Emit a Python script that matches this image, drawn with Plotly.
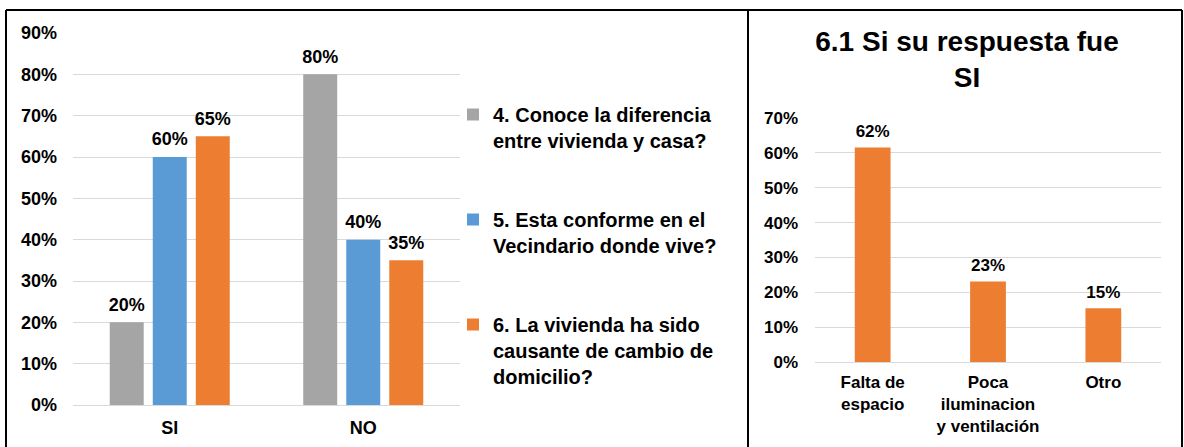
import plotly.graph_objects as go

# Encuesta: respuestas SI / NO por pregunta
respuestas = ["SI", "NO"]
p4_diferencia = [0.20, 0.80]
p5_vecindario = [0.60, 0.40]
p6_cambio = [0.65, 0.35]
nombres_series = [
    "4. Conoce la diferencia<br>entre vivienda y casa?",
    "5. Esta conforme en el<br>Vecindario donde vive?",
    "6. La vivienda ha sido<br>causante de cambio de<br>domicilio?",
]

# Pregunta 6.1: motivos entre quienes respondieron SI
motivos = ["Falta de<br>espacio", "Poca<br>iluminacion<br>y ventilación", "Otro"]
motivos_pct = [8 / 13, 3 / 13, 2 / 13]

ticks_izq = [i / 10 for i in range(10)]
ticks_der = [i / 10 for i in range(8)]

GRIS = "#A5A5A5"
AZUL = "#5B9BD5"
NARANJA = "#ED7D31"
FUENTE = "Liberation Sans, Arial, sans-serif"
W, H = 1184, 447

fig = go.Figure()

series = list(zip(nombres_series, [p4_diferencia, p5_vecindario, p6_cambio],
                  [GRIS, AZUL, NARANJA]))

for i, (nombre, valores, color) in enumerate(series):
    fig.add_trace(go.Bar(
        x=respuestas, y=valores, name=nombre, marker_color=color,
        marker_line_width=0, legendgroup=nombre, offsetgroup=str(i),
        xaxis="x", yaxis="y", hoverinfo="skip",
    ))

# Etiquetas de porcentaje sobre cada barra (puntos agrupados como las barras)
for i, (nombre, valores, color) in enumerate(series):
    fig.add_trace(go.Scatter(
        x=respuestas, y=valores, mode="markers+text", offsetgroup=str(i),
        marker=dict(size=10, opacity=0), texttemplate="%{y:.0%}",
        textposition="top center",
        textfont=dict(size=18, color="black", family=FUENTE, weight="bold"),
        cliponaxis=False, showlegend=False, hoverinfo="skip",
        xaxis="x", yaxis="y",
    ))

fig.add_trace(go.Bar(
    x=motivos, y=motivos_pct, marker_color=NARANJA, marker_line_width=0,
    showlegend=False, width=0.31,
    xaxis="x2", yaxis="y2", hoverinfo="skip",
))
fig.add_trace(go.Scatter(
    x=motivos, y=motivos_pct, mode="markers+text",
    marker=dict(size=8, opacity=0), texttemplate="%{y:.0%}",
    textposition="top center",
    textfont=dict(size=17, color="black", family=FUENTE, weight="bold"),
    cliponaxis=False, showlegend=False, hoverinfo="skip",
    xaxis="x2", yaxis="y2",
))

eje_y = dict(tickformat=".0%", showgrid=True, gridcolor="#D9D9D9", gridwidth=1,
             zeroline=True, zerolinecolor="#D9D9D9", zerolinewidth=1,
             showline=False, ticks="", fixedrange=True, automargin=False)

fig.update_layout(
    width=W, height=H,
    margin=dict(l=0, r=0, t=0, b=0, pad=0, autoexpand=False),
    paper_bgcolor="white", plot_bgcolor="white",
    font=dict(family=FUENTE, size=18, color="black", weight="bold"),
    barmode="group", bargap=0.333, bargroupgap=0.21,
    scattermode="group", scattergap=0.333,
    xaxis=dict(domain=[73 / W, 460 / W], showline=False, ticks="",
               ticklabelstandoff=10, fixedrange=True, automargin=False),
    yaxis=dict(domain=[(H - 405) / H, (H - 33) / H], range=[0, 0.9],
               tickvals=ticks_izq, ticklabelstandoff=15, **eje_y),
    xaxis2=dict(domain=[815 / W, 1161 / W], anchor="y2", showline=False, ticks="",
                tickfont=dict(size=17), ticklabelstandoff=8, fixedrange=True,
                automargin=False),
    yaxis2=dict(domain=[(H - 362) / H, (H - 118) / H], range=[0, 0.7], anchor="x2",
                tickvals=ticks_der, tickfont=dict(size=17), ticklabelstandoff=16, **eje_y),
    title=dict(text="6.1 Si su respuesta fue<br>SI", x=967 / W, xanchor="center",
               y=1 - 51 / H, yanchor="middle", automargin=False,
               font=dict(size=28, family=FUENTE, color="black", weight="bold")),
    legend=dict(x=(493 - 40) / W, xanchor="left", y=1 - 95 / H, yanchor="top",
                valign="top", traceorder="grouped", tracegroupgap=50,
                font=dict(size=20, family=FUENTE, color="black", weight="bold"),
                bgcolor="rgba(0,0,0,0)"),
    showlegend=True,
)

# Marco exterior y separador entre los dos gráficos
borde = dict(type="line", xref="paper", yref="paper", line=dict(color="black", width=2))
fig.add_shape(**borde, x0=6 / W, x1=6 / W, y0=0, y1=1 - 10 / H)
fig.add_shape(**borde, x0=6 / W, x1=1182 / W, y0=1 - 10 / H, y1=1 - 10 / H)
fig.add_shape(**borde, x0=1182 / W, x1=1182 / W, y0=0, y1=1 - 10 / H)
fig.add_shape(**borde, x0=748 / W, x1=748 / W, y0=0, y1=1 - 10 / H)

fig.write_html("out.html", config={"displayModeBar": False})
